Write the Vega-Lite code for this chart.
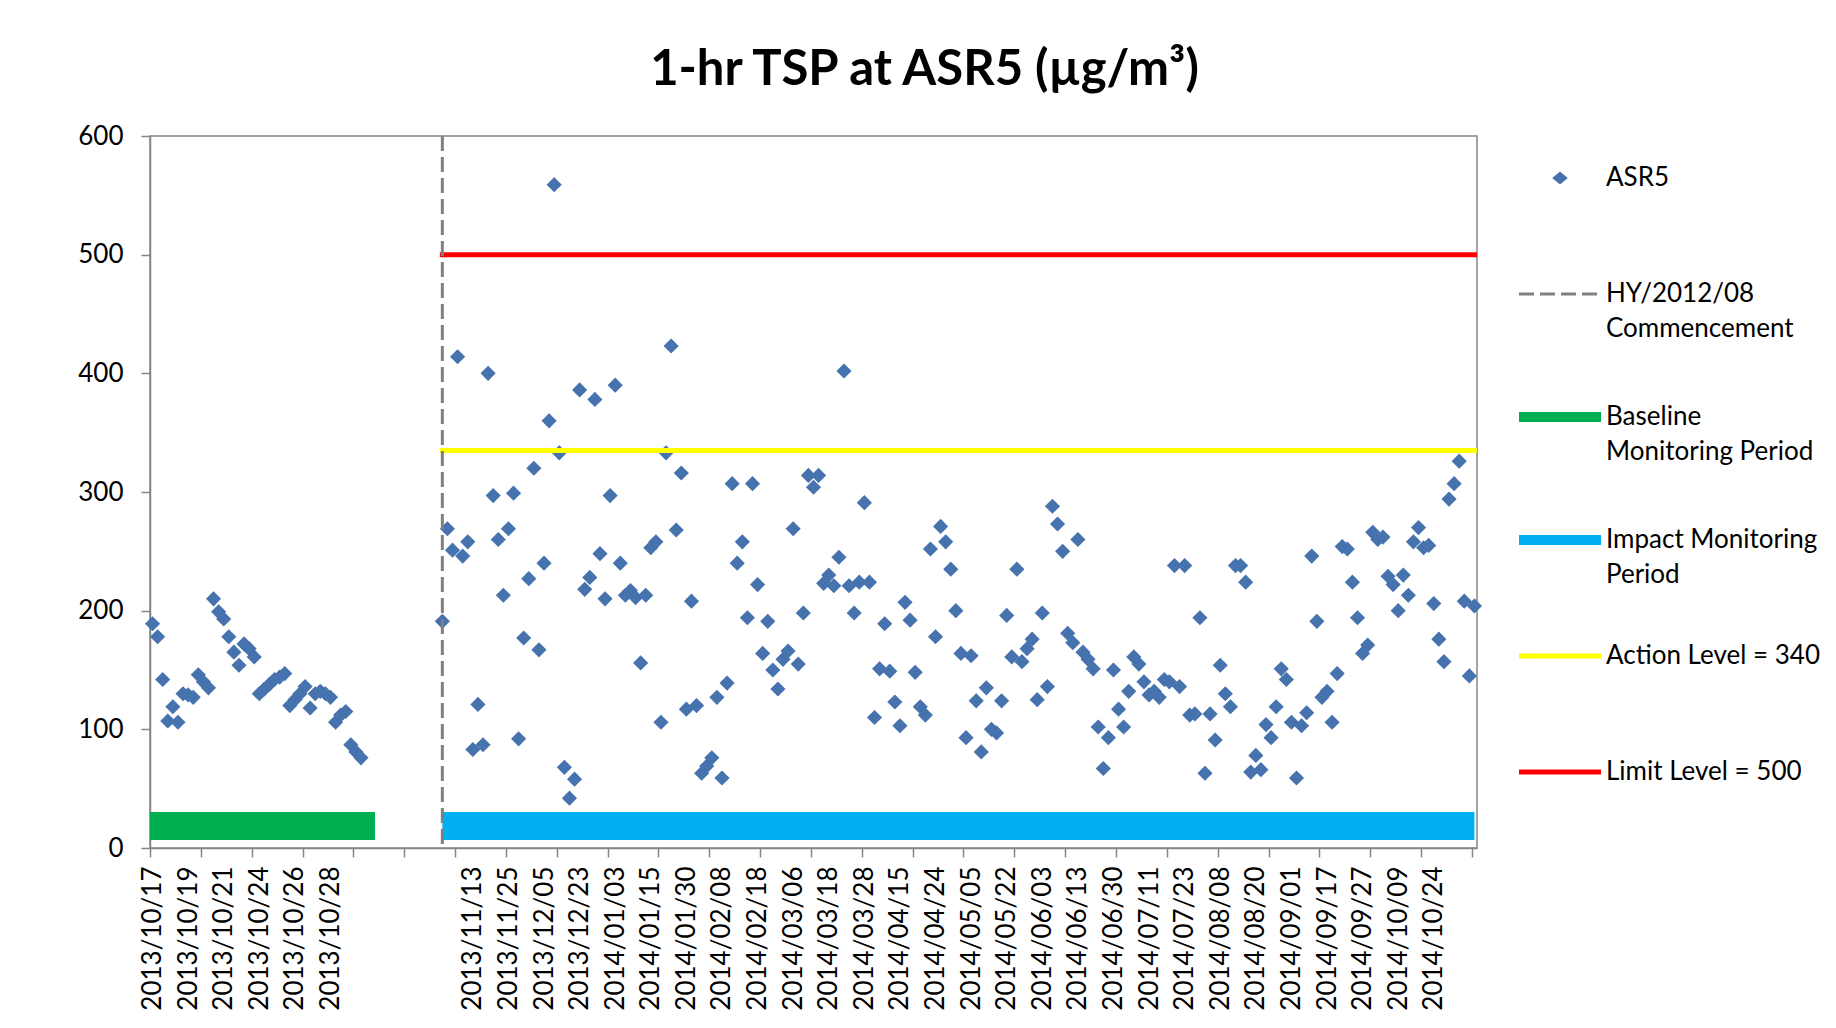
{
  "$schema": "https://vega.github.io/schema/vega-lite/v6.json",
  "autosize": {"type": "none"},
  "padding": {"left": 150, "top": 136, "right": 359, "bottom": 180},
  "width": 1327,
  "height": 712,
  "background": "white",
  "config": {
    "font": "Lato",
    "view": {"stroke": "#868686", "strokeWidth": 1.5},
    "style": {"guide-label": {"lineHeight": 35}},
    "axis": {"grid": false, "domainColor": "#868686", "domainWidth": 1.5, "tickColor": "#868686", "tickWidth": 1.5, "tickSize": 9, "labelFont": "Lato", "labelFontSize": 26, "labelColor": "#000000", "title": null}
  },
  "title": {"text": "1-hr TSP at ASR5 (µg/m³)", "font": "Lato", "fontSize": 49, "fontWeight": "bold", "color": "#000000", "anchor": "middle", "dx": 111, "offset": 28},
  "resolve": {"scale": {"x": "shared"}, "axis": {"x": "independent"}},
  "layer": [
    {
      "data": {"values": [
        {"series": "Baseline Monitoring Period", "start": 0, "end": 41, "level": 18.5}
      ]},
      "mark": {"type": "rule", "strokeWidth": 28, "strokeCap": "square", "clip": true},
      "encoding": {
        "x": {"field": "start", "type": "quantitative", "scale": {"domain": [-0.5, 260.5], "nice": false, "zero": false}, "axis": null},
        "x2": {"field": "end"},
        "y": {"field": "level", "type": "quantitative", "scale": {"domain": [0, 600], "nice": false}},
        "color": {
          "field": "series", "type": "nominal",
          "scale": {
            "domain": ["ASR5", "HY/2012/08 Commencement", "Baseline Monitoring Period", "Impact Monitoring Period", "Action Level = 340", "Limit Level = 500"],
            "range": ["#4672AE", "#808080", "#00B050", "#00B0F0", "#FFFF00", "#FF0000"]
          },
          "legend": {
            "title": null,
            "orient": "right",
            "offset": 41,
            "padding": 29,
            "symbolType": {"expr": "datum.value === 'ASR5' ? 'M0,-0.16L0.19,0L0,0.16L-0.19,0Z' : 'stroke'"},
            "symbolSize": 6724,
            "symbolStrokeWidth": {"expr": "datum.value === 'ASR5' ? 0 : datum.value === 'HY/2012/08 Commencement' ? 3 : (datum.value === 'Baseline Monitoring Period' || datum.value === 'Impact Monitoring Period') ? 10 : 5"},
            "symbolDash": {"expr": "datum.value === 'ASR5' ? [0, 400] : datum.value === 'HY/2012/08 Commencement' ? [15, 6] : [1, 0]"},
            "symbolOpacity": 1,
            "labelFont": "Lato",
            "labelFontSize": 26,
            "labelColor": "#000000",
            "labelOffset": 33,
            "labelLimit": 400,
            "rowPadding": 55,
            "labelExpr": "datum.label === 'HY/2012/08 Commencement' ? ['HY/2012/08', 'Commencement'] : datum.label === 'Baseline Monitoring Period' ? ['Baseline', 'Monitoring Period'] : datum.label === 'Impact Monitoring Period' ? ['Impact Monitoring', 'Period'] : [datum.label, ' ']"
          }
        }
      }
    },
    {
      "data": {"values": [
        {"series": "Impact Monitoring Period", "start": 57, "end": 260, "level": 18.5}
      ]},
      "mark": {"type": "rule", "strokeWidth": 28, "strokeCap": "butt", "clip": true},
      "encoding": {
        "x": {"field": "start", "type": "quantitative", "scale": {"domain": [-0.5, 260.5], "nice": false, "zero": false}, "axis": null},
        "x2": {"field": "end"},
        "y": {"field": "level", "type": "quantitative", "scale": {"domain": [0, 600], "nice": false}},
        "color": {"field": "series", "type": "nominal"}
      }
    },
    {
      "data": {"values": [
        {"n":0,"v":189},{"n":1,"v":178},{"n":2,"v":142},{"n":3,"v":107},{"n":4,"v":119},{"n":5,"v":106},{"n":6,"v":130},{"n":7,"v":129},{"n":8,"v":127},{"n":9,"v":146},
        {"n":10,"v":140},{"n":11,"v":135},{"n":12,"v":210},{"n":13,"v":199},{"n":14,"v":193},{"n":15,"v":178},{"n":16,"v":165},{"n":17,"v":154},{"n":18,"v":172},{"n":19,"v":168},
        {"n":20,"v":161},{"n":21,"v":130},{"n":22,"v":134},{"n":23,"v":138},{"n":24,"v":142},{"n":25,"v":144},{"n":26,"v":147},{"n":27,"v":120},{"n":28,"v":125},{"n":29,"v":130},
        {"n":30,"v":136},{"n":31,"v":118},{"n":32,"v":130},{"n":33,"v":132},{"n":34,"v":130},{"n":35,"v":127},{"n":36,"v":106},{"n":37,"v":112},{"n":38,"v":115},{"n":39,"v":87},
        {"n":40,"v":81},{"n":41,"v":76},
        {"n":57,"v":191},{"n":58,"v":269},{"n":59,"v":251},{"n":60,"v":414},{"n":61,"v":246},{"n":62,"v":258},{"n":63,"v":83},{"n":64,"v":121},{"n":65,"v":87},{"n":66,"v":400},
        {"n":67,"v":297},{"n":68,"v":260},{"n":69,"v":213},{"n":70,"v":269},{"n":71,"v":299},{"n":72,"v":92},{"n":73,"v":177},{"n":74,"v":227},{"n":75,"v":320},{"n":76,"v":167},
        {"n":77,"v":240},{"n":78,"v":360},{"n":79,"v":559},{"n":80,"v":333},{"n":81,"v":68},{"n":82,"v":42},{"n":83,"v":58},{"n":84,"v":386},{"n":85,"v":218},{"n":86,"v":228},
        {"n":87,"v":378},{"n":88,"v":248},{"n":89,"v":210},{"n":90,"v":297},{"n":91,"v":390},{"n":92,"v":240},{"n":93,"v":213},{"n":94,"v":217},{"n":95,"v":211},{"n":96,"v":156},
        {"n":97,"v":213},{"n":98,"v":253},{"n":99,"v":258},{"n":100,"v":106},{"n":101,"v":333},{"n":102,"v":423},{"n":103,"v":268},{"n":104,"v":316},{"n":105,"v":117},{"n":106,"v":208},
        {"n":107,"v":120},{"n":108,"v":63},{"n":109,"v":69},{"n":110,"v":76},{"n":111,"v":127},{"n":112,"v":59},{"n":113,"v":139},{"n":114,"v":307},{"n":115,"v":240},{"n":116,"v":258},
        {"n":117,"v":194},{"n":118,"v":307},{"n":119,"v":222},{"n":120,"v":164},{"n":121,"v":191},{"n":122,"v":150},{"n":123,"v":134},{"n":124,"v":159},{"n":125,"v":166},{"n":126,"v":269},
        {"n":127,"v":155},{"n":128,"v":198},{"n":129,"v":314},{"n":130,"v":304},{"n":131,"v":314},{"n":132,"v":223},{"n":133,"v":230},{"n":134,"v":221},{"n":135,"v":245},{"n":136,"v":402},
        {"n":137,"v":221},{"n":138,"v":198},{"n":139,"v":224},{"n":140,"v":291},{"n":141,"v":224},{"n":142,"v":110},{"n":143,"v":151},{"n":144,"v":189},{"n":145,"v":149},{"n":146,"v":123},
        {"n":147,"v":103},{"n":148,"v":207},{"n":149,"v":192},{"n":150,"v":148},{"n":151,"v":119},{"n":152,"v":112},{"n":153,"v":252},{"n":154,"v":178},{"n":155,"v":271},{"n":156,"v":258},
        {"n":157,"v":235},{"n":158,"v":200},{"n":159,"v":164},{"n":160,"v":93},{"n":161,"v":162},{"n":162,"v":124},{"n":163,"v":81},{"n":164,"v":135},{"n":165,"v":100},{"n":166,"v":97},
        {"n":167,"v":124},{"n":168,"v":196},{"n":169,"v":161},{"n":170,"v":235},{"n":171,"v":157},{"n":172,"v":168},{"n":173,"v":176},{"n":174,"v":125},{"n":175,"v":198},{"n":176,"v":136},
        {"n":177,"v":288},{"n":178,"v":273},{"n":179,"v":250},{"n":180,"v":181},{"n":181,"v":173},{"n":182,"v":260},{"n":183,"v":165},{"n":184,"v":159},{"n":185,"v":151},{"n":186,"v":102},
        {"n":187,"v":67},{"n":188,"v":93},{"n":189,"v":150},{"n":190,"v":117},{"n":191,"v":102},{"n":192,"v":132},{"n":193,"v":161},{"n":194,"v":155},{"n":195,"v":140},{"n":196,"v":129},
        {"n":197,"v":132},{"n":198,"v":127},{"n":199,"v":142},{"n":200,"v":140},{"n":201,"v":238},{"n":202,"v":136},{"n":203,"v":238},{"n":204,"v":112},{"n":205,"v":113},{"n":206,"v":194},
        {"n":207,"v":63},{"n":208,"v":113},{"n":209,"v":91},{"n":210,"v":154},{"n":211,"v":130},{"n":212,"v":119},{"n":213,"v":238},{"n":214,"v":238},{"n":215,"v":224},{"n":216,"v":64},
        {"n":217,"v":78},{"n":218,"v":66},{"n":219,"v":104},{"n":220,"v":93},{"n":221,"v":119},{"n":222,"v":151},{"n":223,"v":142},{"n":224,"v":106},{"n":225,"v":59},{"n":226,"v":103},
        {"n":227,"v":114},{"n":228,"v":246},{"n":229,"v":191},{"n":230,"v":127},{"n":231,"v":132},{"n":232,"v":106},{"n":233,"v":147},{"n":234,"v":254},{"n":235,"v":252},{"n":236,"v":224},
        {"n":237,"v":194},{"n":238,"v":164},{"n":239,"v":171},{"n":240,"v":266},{"n":241,"v":260},{"n":242,"v":262},{"n":243,"v":229},{"n":244,"v":222},{"n":245,"v":200},{"n":246,"v":230},
        {"n":247,"v":213},{"n":248,"v":258},{"n":249,"v":270},{"n":250,"v":253},{"n":251,"v":255},{"n":252,"v":206},{"n":253,"v":176},{"n":254,"v":157},{"n":255,"v":294},{"n":256,"v":307},
        {"n":257,"v":326},{"n":258,"v":208},{"n":259,"v":145},{"n":260,"v":204}
      ]},
      "mark": {"type": "point", "shape": "diamond", "filled": true, "size": 230, "opacity": 1},
      "encoding": {
        "x": {
          "field": "n", "type": "quantitative",
          "scale": {"domain": [-0.5, 260.5], "nice": false, "zero": false},
          "axis": {
            "orient": "bottom",
            "values": [0, 7, 14, 21, 28, 35, 42, 49, 56, 63, 70, 77, 84, 91, 98, 105, 112, 119, 126, 133, 140, 147, 154, 161, 168, 175, 182, 189, 196, 203, 210, 217, 224, 231, 238, 245, 252],
            "labelExpr": "['2013/10/17','2013/10/19','2013/10/21','2013/10/24','2013/10/26','2013/10/28','','','','2013/11/13','2013/11/25','2013/12/05','2013/12/23','2014/01/03','2014/01/15','2014/01/30','2014/02/08','2014/02/18','2014/03/06','2014/03/18','2014/03/28','2014/04/15','2014/04/24','2014/05/05','2014/05/22','2014/06/03','2014/06/13','2014/06/30','2014/07/11','2014/07/23','2014/08/08','2014/08/20','2014/09/01','2014/09/17','2014/09/27','2014/10/09','2014/10/24'][round(datum.value / 7)]",
            "labelAngle": 270, "labelAlign": "right", "labelBaseline": "middle",
            "labelPadding": 9, "labelOverlap": false, "labelFlush": false, "labelBound": false,
            "ticks": true, "tickOpacity": 0, "domain": true
          }
        },
        "y": {
          "field": "v", "type": "quantitative",
          "scale": {"domain": [0, 600], "nice": false},
          "axis": {"values": [0, 100, 200, 300, 400, 500, 600], "labelPadding": 18}
        },
        "color": {"datum": "ASR5", "type": "nominal"}
      }
    },
    {
      "data": {"values": [
        {"series": "Action Level = 340", "start": 57, "end": 260, "level": 335},
        {"series": "Limit Level = 500", "start": 57, "end": 260, "level": 500}
      ]},
      "mark": {"type": "rule", "strokeWidth": 5, "strokeCap": "square"},
      "encoding": {
        "x": {
          "field": "start", "type": "quantitative",
          "scale": {"domain": [-0.5, 260.5], "nice": false, "zero": false},
          "axis": {
            "orient": "bottom",
            "values": [-0.5, 9.5, 19.5, 29.5, 39.5, 49.5, 59.5, 69.5, 79.5, 89.5, 99.5, 109.5, 119.5, 129.5, 139.5, 149.5, 159.5, 169.5, 179.5, 189.5, 199.5, 209.5, 219.5, 229.5, 239.5, 249.5, 259.5],
            "labels": false, "domain": false, "ticks": true
          }
        },
        "x2": {"field": "end"},
        "y": {"field": "level", "type": "quantitative", "scale": {"domain": [0, 600], "nice": false}},
        "color": {"field": "series", "type": "nominal"}
      }
    },
    {
      "data": {"values": [
        {"series": "HY/2012/08 Commencement", "at": 57}
      ]},
      "mark": {"type": "rule", "strokeWidth": 3, "strokeDash": [15, 6]},
      "encoding": {
        "x": {"field": "at", "type": "quantitative", "scale": {"domain": [-0.5, 260.5], "nice": false, "zero": false}, "axis": null},
        "color": {"field": "series", "type": "nominal"}
      }
    }
  ]
}
